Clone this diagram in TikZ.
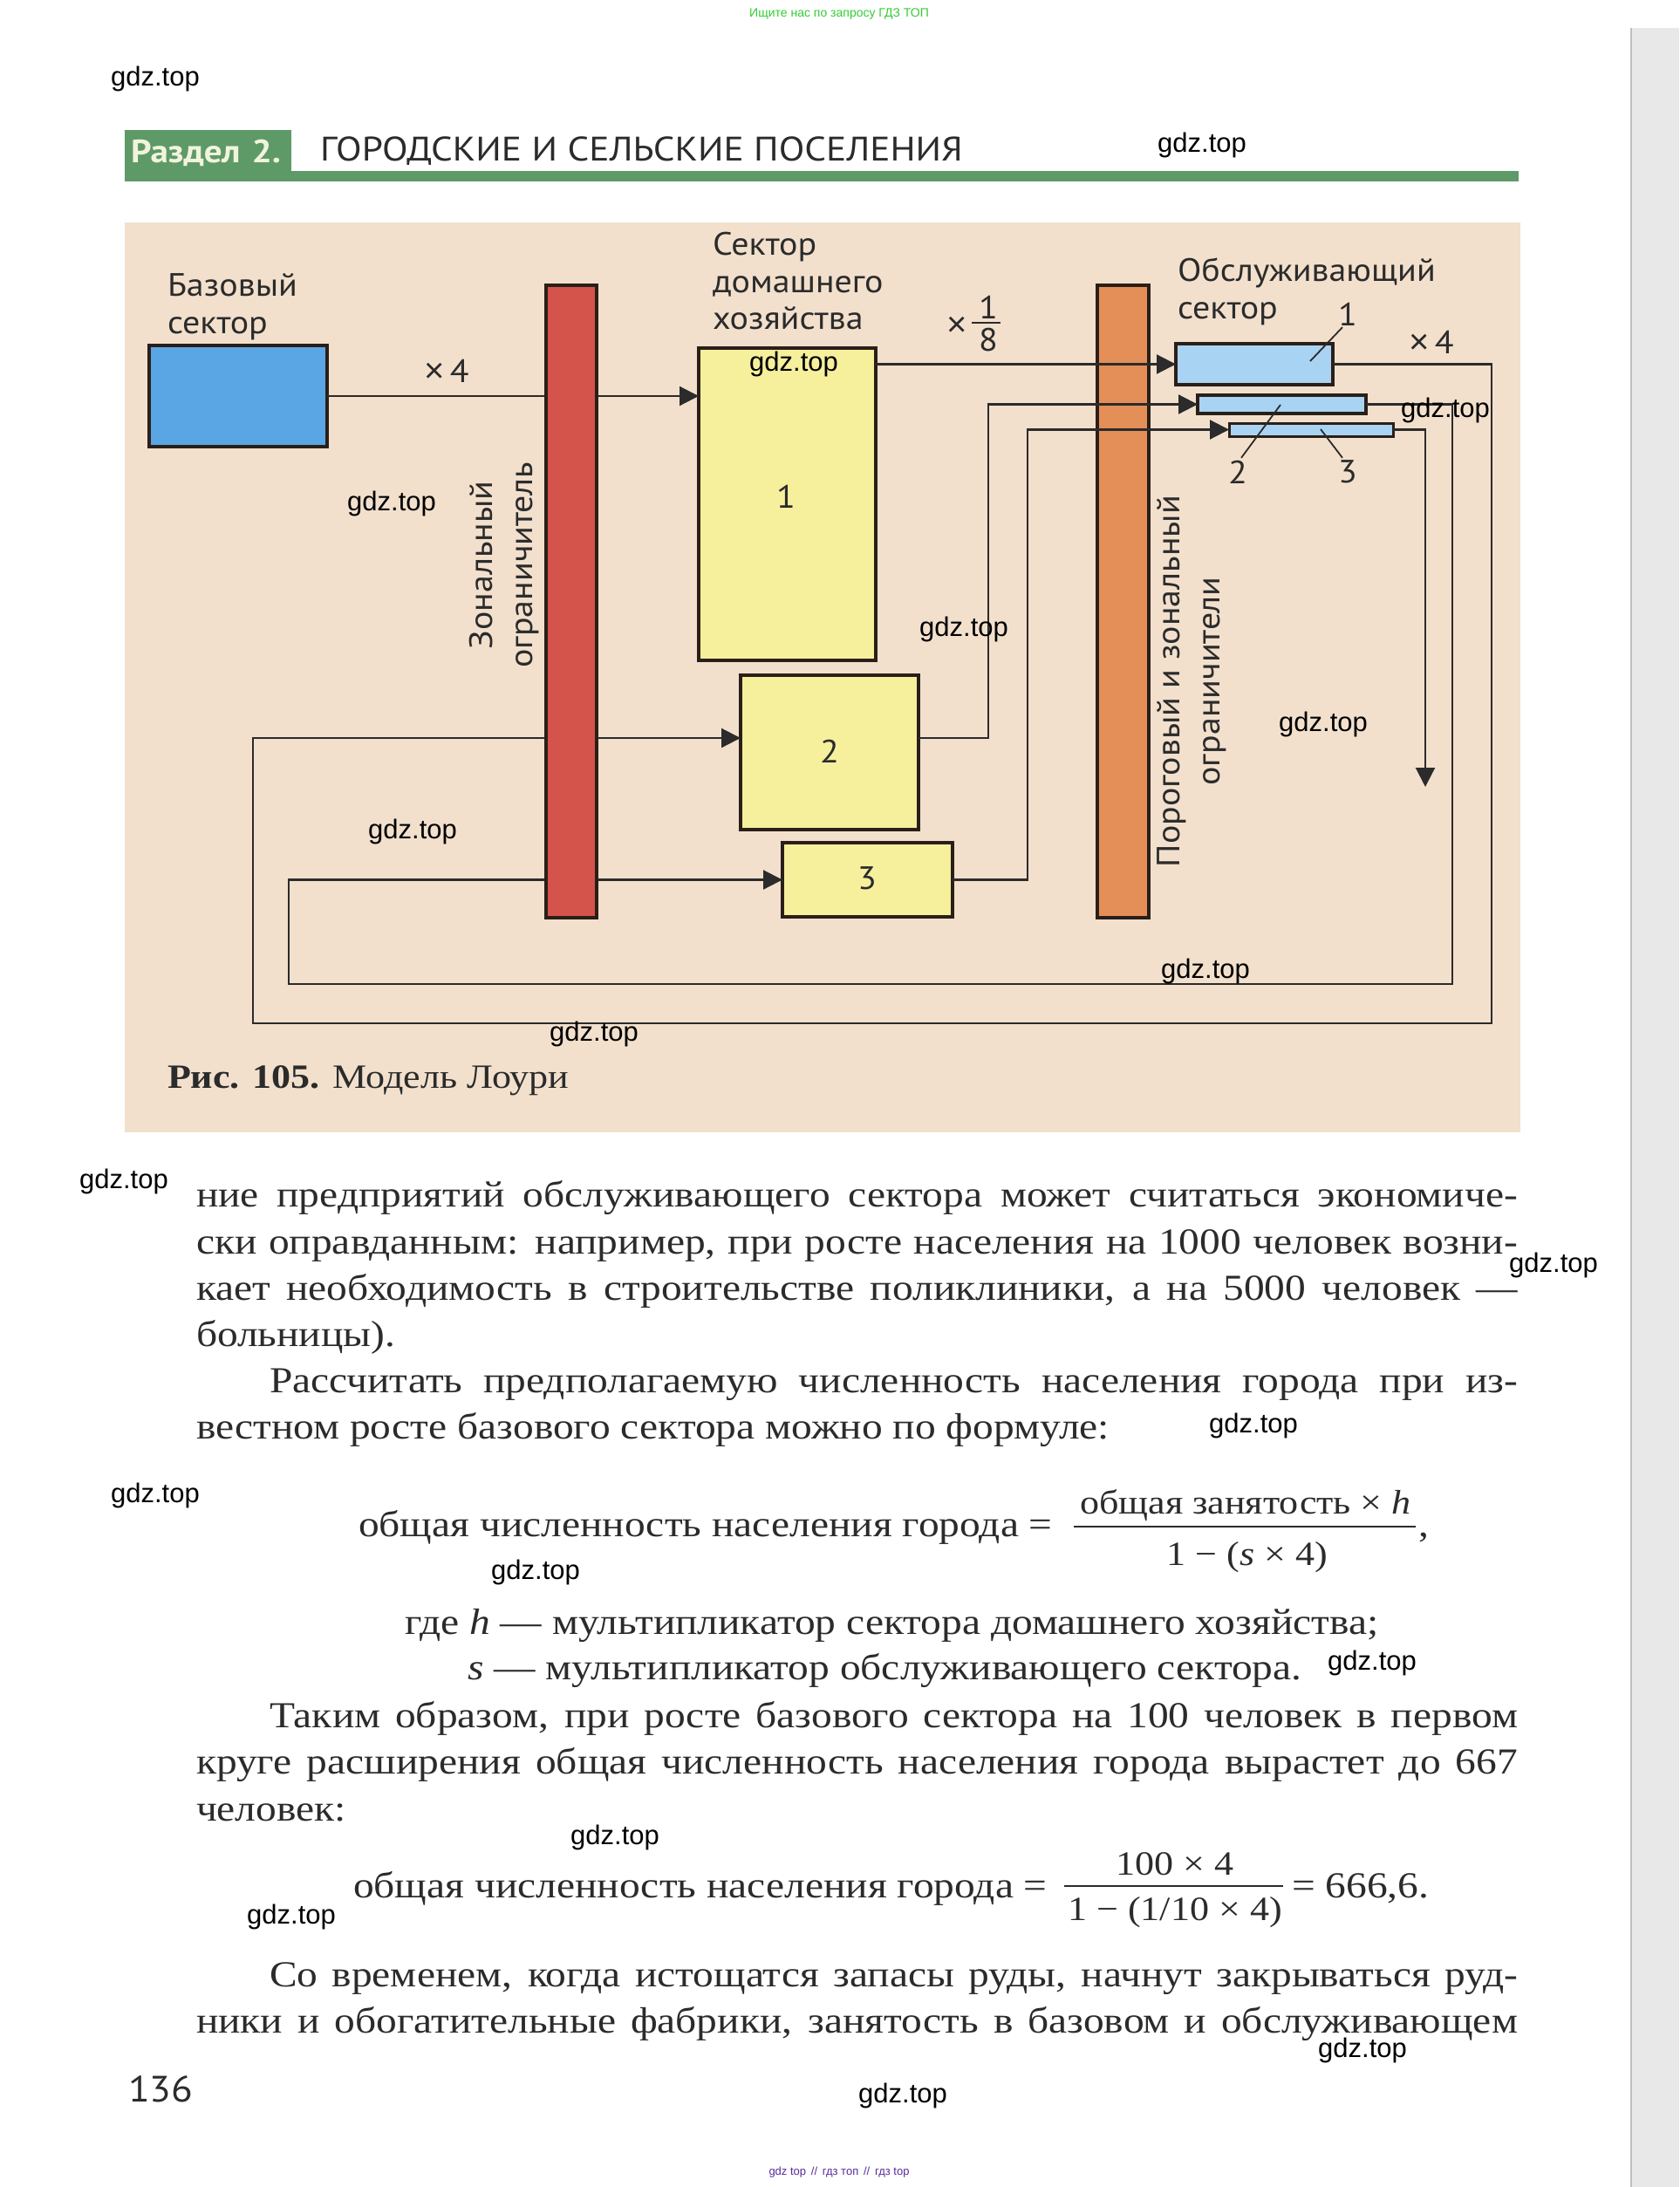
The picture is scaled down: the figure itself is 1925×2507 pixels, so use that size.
\documentclass[tikz,border=0pt]{standalone}
\usepackage{fontspec}
\setmainfont{Liberation Serif}[FakeStretch=1.13]
\newfontfamily\dsans{PT Sans}[FakeStretch=1.08]
\newfontfamily\hsans{PT Sans}[FakeStretch=1.11]
\newfontfamily\wsans{Liberation Sans}
\usetikzlibrary{arrows.meta,calc}
\definecolor{beige}{HTML}{F2E0CD}
\definecolor{hgreen}{HTML}{5E9A68}
\definecolor{htext}{HTML}{F1F4DC}
\definecolor{bblue}{HTML}{5AA6E4}
\definecolor{lblue}{HTML}{A9D3F3}
\definecolor{pyellow}{HTML}{F6EF9C}
\definecolor{bred}{HTML}{D4534B}
\definecolor{borange}{HTML}{E48E58}
\definecolor{edge}{HTML}{2A1F18}
\definecolor{txt}{HTML}{2B2B2B}
\definecolor{topgreen}{HTML}{33CC33}
\definecolor{botpurple}{HTML}{5A2A9A}
\newcommand\jl[2]{\hbox to #1pt{#2}}
\newcommand\tms{{\wsans\fontsize{40}{40}\selectfont ×}}
\begin{document}
\begin{tikzpicture}[x=1pt,y=-1pt,
  every node/.style={inner sep=0pt,outer sep=0pt},
  box/.style={draw=edge,line width=3.5pt},
  lab/.style={font=\dsans\fontsize{37}{46}\selectfont,text=txt},
  wm/.style={font=\wsans\fontsize{31}{31}\selectfont,text=black},
  body/.style={font=\fontsize{42}{53}\selectfont,text=txt,anchor=base west},
  frac/.style={font=\fontsize{39}{53}\selectfont,text=txt,anchor=base},
  conn/.style={draw=txt,line width=2.2pt},
  arr/.style={-{Triangle[length=22pt,width=22pt]}},
  leader/.style={draw=txt,line width=1.8pt}]
\useasboundingbox (0,0) rectangle (1925,2507);
\fill[white] (0,0) rectangle (1925,2507);
% right page edge shadow
\fill[black!9] (1870,32) rectangle (1925,2507);
\draw[black!25,line width=2pt] (1870,32) -- (1870,2507);
% top & bottom small texts
\node[font=\wsans\fontsize{14}{14}\selectfont,text=topgreen] (toptxt) at (962,16) {Ищите нас по запросу ГДЗ ТОП};
\node[font=\wsans\fontsize{13}{13}\selectfont,text=botpurple] (bottxt) at (962,2490) {gdz top \,//\, гдз топ \,//\, гдз top};
% header
\fill[hgreen] (143,149) rectangle (334,208);
\fill[hgreen] (143,196) rectangle (1741,208);
\node[anchor=base west,font=\hsans\bfseries\fontsize{37}{37}\selectfont,text=htext] (razdel) at (150,187) {Раздел\hspace{13pt}2.};
\node[anchor=base west,font=\hsans\fontsize{39}{39}\selectfont,text=txt] (htitle) at (367,185) {ГОРОДСКИЕ И СЕЛЬСКИЕ ПОСЕЛЕНИЯ};
% diagram background
\fill[beige] (143,255) rectangle (1743,1298);
% labels
\node[lab,anchor=base west] (bl1) at (192,339) {Базовый};
\node[lab,anchor=base west] (bl2) at (192,382) {сектор};
\node[lab,anchor=base west] (hl1) at (817,292) {Сектор};
\node[lab,anchor=base west] (hl2) at (817,335) {домашнего};
\node[lab,anchor=base west] (hl3) at (817,377) {хозяйства};
\node[lab,anchor=base west] (sl1) at (1350,322) {Обслуживающий};
\node[lab,anchor=base west] (sl2) at (1350,365) {сектор};
\node[lab,rotate=90,align=center] (zl) at (578,648) {Зональный\\ограничитель};
\node[lab,rotate=90,align=center] (pl) at (1366,781) {Пороговый и зональный\\ограничители};
\node[lab,anchor=base] (m1) at (512,438) {\tms\,4};
\node[lab,anchor=base] (m2) at (1641,405) {\tms\,4};
\node[lab,anchor=base] (m3x) at (1097,385) {\tms};
\node[lab] (m3n) at (1133,352) {1};
\node[lab] (m3d) at (1133,390) {8};
\draw[txt,line width=1.6pt] (m3n.south west) ++(-8,5) coordinate (fb1) -- ($(fb1)+(33,0)$) coordinate (fb2);
% orange bar
\node[box,fill=borange,minimum width=59pt,minimum height=725pt] (O) at (1287.5,689.5) {};
% boxes
\node[box,fill=bblue,line width=4pt,minimum width=204pt,minimum height=116pt] (B) at (273,454) {};
\node[box,fill=pyellow,minimum width=203pt,minimum height=358pt] (Y1) at (902.5,578) {};
\node[box,fill=pyellow,minimum width=204pt,minimum height=177pt] (Y2) at (951,862.5) {};
\node[box,fill=pyellow,minimum width=195pt,minimum height=85pt] (Y3) at (994.5,1008.5) {};
\node[box,fill=lblue,minimum width=180pt,minimum height=47pt] (S1) at (1438,417.5) {};
\node[box,fill=lblue,minimum width=193pt,minimum height=21pt] (S2) at (1469.5,463.5) {};
\node[box,fill=lblue,line width=3pt,minimum width=188pt,minimum height=15pt] (S3) at (1503,492.5) {};
\node[lab] (y1n) at (901,569) {1};
\node[lab] (y2n) at (951,861) {2};
\node[lab] (y3n) at (994,1007) {3};
% coordinates
\coordinate (y2in) at ([yshift=16.5pt]Y2.west);
\coordinate (y2out) at ([yshift=16.5pt]Y2.east);
\coordinate (c2) at (1133,846);
\coordinate (c3) at (1178,1008);
\coordinate (l1) at (1710,1173);
\coordinate (l1b) at (290,1173);
\coordinate (l2) at (1665,1128);
\coordinate (l2b) at (331,1128);
\coordinate (e3) at (1634,902);
% connectors
\draw[conn,arr] (B.east) -- (B.east -| Y1.west);
\draw[conn,arr] (Y1.east |- S1.west) -- (S1.west);
\draw[conn,arr] (y2out) -| (c2 |- S2.west) -- (S2.west);
\draw[conn,arr] (Y3.east) -| (c3 |- S3.west) -- (S3.west);
\draw[conn,arr] (S1.east) -| (l1) -- (l1b) |- (y2in);
\draw[conn,arr] (S2.east) -| (l2) -- (l2b) |- (Y3.west);
\draw[conn,arr] (S3.east) -| (e3);
% red bar on top
\node[box,fill=bred,minimum width=58pt,minimum height=725pt] (R) at (655,689.5) {};
% service sector numbering
\node[lab] (s1n) at (1545,360) {1};
\node[lab] (s2n) at (1419,541) {2};
\node[lab] (s3n) at (1545,541) {3};
\coordinate (p1) at (1502,414);
\coordinate (p2) at (1468,464);
\coordinate (p3) at (1514,492);
\draw[leader] ([xshift=-6pt,yshift=-2pt]s1n.south) -- (p1);
\draw[leader] ([xshift=4pt,yshift=3pt]s2n.north) -- (p2);
\draw[leader] ([xshift=-6pt,yshift=3pt]s3n.north) -- (p3);
% caption
\node[anchor=base west,font=\fontsize{39}{39}\selectfont,text=txt] (cap) at (192,1247) {\textbf{Рис. 105.} Модель Лоури};
% body text
\node[body] (t1) at (225,1383) {\jl{1515}{ние предприятий обслуживающего сектора может считаться экономиче-}};
\node[body] (t2) at (225,1437) {\jl{1515}{ски оправданным: например, при росте населения на 1000 человек возни-}};
\node[body] (t3) at (225,1490) {\jl{1515}{кает необходимость в строительстве поликлиники, а на 5000 человек —}};
\node[body] (t4) at (225,1543) {больницы).};
\node[body] (t5) at (309,1596) {\jl{1431}{Рассчитать предполагаемую численность населения города при из-}};
\node[body] (t6) at (225,1649) {вестном росте базового сектора можно по формуле:};
% formula 1
\node[body] (f1l) at (411,1761) {общая численность населения города =};
\node[frac] (f1n) at (1428,1735) {общая занятость × \textit{h}};
\node[frac] (f1d) at (1430,1794) {1 − (\textit{s} × 4)};
\draw[txt,line width=2pt] ([yshift=-15pt]f1n.base -| 1231,0) coordinate (fa) -- (fa -| 1623,0) coordinate (fb);
\node[body] (f1c) at (1626,1761) {,};
\node[body] (t7) at (464,1873) {где \textit{h} — мультипликатор сектора домашнего хозяйства;};
\node[body] (t8) at (536,1925) {\textit{s} — мультипликатор обслуживающего сектора.};
\node[body] (t9) at (309,1980) {\jl{1431}{Таким образом, при росте базового сектора на 100 человек в первом}};
\node[body] (t10) at (225,2033) {\jl{1515}{круге расширения общая численность населения города вырастет до 667}};
\node[body] (t11) at (225,2087) {человек:};
% formula 2
\node[body] (f2l) at (405,2175) {общая численность населения города =};
\node[frac] (f2n) at (1347,2149) {100 × 4};
\node[frac] (f2d) at (1347,2201) {1 − (1/10 × 4)};
\draw[txt,line width=2pt] ([yshift=-13pt]f2n.base -| 1220,0) coordinate (ga) -- (ga -| 1471,0) coordinate (gb);
\node[body] (f2r) at (1481,2175) {= 666,6.};
\node[body] (t12) at (309,2277) {\jl{1431}{Со временем, когда истощатся запасы руды, начнут закрываться руд-}};
\node[body] (t13) at (225,2330) {\jl{1515}{ники и обогатительные фабрики, занятость в базовом и обслуживающем}};
\node[anchor=base west,font=\dsans\fontsize{42}{42}\selectfont,text=txt] (pg) at (147,2409) {136};
% watermarks
\node[wm] (w1) at (178,90) {gdz.top};
\node[wm] (w2) at (1378,166) {gdz.top};
\node[wm] (w3) at (910,417) {gdz.top};
\node[wm] (w4) at (449,577) {gdz.top};
\node[wm] (w5) at (1657,470) {gdz.top};
\node[wm] (w6) at (1105,721) {gdz.top};
\node[wm] (w7) at (1517,830) {gdz.top};
\node[wm] (w8) at (473,953) {gdz.top};
\node[wm] (w9) at (1382,1113) {gdz.top};
\node[wm] (w10) at (681,1185) {gdz.top};
\node[wm] (w11) at (142,1354) {gdz.top};
\node[wm] (w12) at (1781,1450) {gdz.top};
\node[wm] (w13) at (1437,1634) {gdz.top};
\node[wm] (w14) at (178,1714) {gdz.top};
\node[wm] (w15) at (614,1802) {gdz.top};
\node[wm] (w16) at (1573,1906) {gdz.top};
\node[wm] (w17) at (705,2106) {gdz.top};
\node[wm] (w18) at (334,2197) {gdz.top};
\node[wm] (w19) at (1562,2350) {gdz.top};
\node[wm] (w20) at (1035,2402) {gdz.top};
\end{tikzpicture}
\end{document}
